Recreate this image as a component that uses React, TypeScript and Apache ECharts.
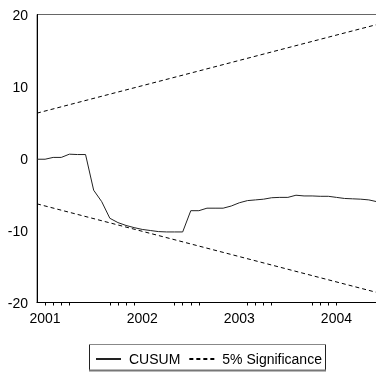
import React, { useEffect, useRef } from "react";
import * as echarts from "echarts";

// Monthly observations, 2000M12 .. 2004M07
const months: string[] = [
  "2000-12",
  "2001-01", "2001-02", "2001-03", "2001-04", "2001-05", "2001-06",
  "2001-07", "2001-08", "2001-09", "2001-10", "2001-11", "2001-12",
  "2002-01", "2002-02", "2002-03", "2002-04", "2002-05", "2002-06",
  "2002-07", "2002-08", "2002-09", "2002-10", "2002-11", "2002-12",
  "2003-01", "2003-02", "2003-03", "2003-04", "2003-05", "2003-06",
  "2003-07", "2003-08", "2003-09", "2003-10", "2003-11", "2003-12",
  "2004-01", "2004-02", "2004-03", "2004-04", "2004-05", "2004-06",
  "2004-07",
];

const cusum: number[] = [
  -0.1, -0.1, 0.15, 0.15, 0.6, 0.55, 0.55, -4.4, -6.0, -8.3, -8.9, -9.3,
  -9.6, -9.85, -10.0, -10.15, -10.2, -10.2, -10.2, -7.25, -7.25, -6.9, -6.9,
  -6.9, -6.6, -6.15, -5.85, -5.75, -5.65, -5.45, -5.4, -5.4, -5.1, -5.2,
  -5.2, -5.25, -5.25, -5.4, -5.55, -5.6, -5.65, -5.75, -6.0, -6.2,
];

// 5% significance bounds: straight lines, read at first and last observation
const upperStart = 6.3;
const upperEnd = 18.9;
const lowerStart = -6.3;
const lowerEnd = -18.9;

const yearLabelIdx: number[] = [1, 13, 25, 37];
const tickIdx: number[] = [
  1, 2, 3, 4, 9, 10, 11, 12, 17, 18, 19, 20, 26, 27, 28, 29, 34, 35, 36, 37,
];

const yTicks = { min: -20, max: 20, interval: 10 };

const FONT = "'Liberation Sans', Arial, sans-serif";

function boundSeries(start: number, end: number): (number | null)[] {
  return months.map((_, i) =>
    i === 0 ? start : i === months.length - 1 ? end : null
  );
}

export default function App() {
  const ref = useRef<HTMLDivElement>(null);

  useEffect(() => {
    document.body.style.margin = "0";
    document.body.style.overflow = "hidden";
    if (!ref.current) return;
    const chart = echarts.init(ref.current, null, { renderer: "svg" });
    const dashed = {
      color: "#000",
      width: 1,
      type: [4, 3] as any,
    };
    chart.setOption({
      animation: false,
      grid: {
        left: 37,
        right: 0,
        top: 14.5,
        bottom: 71.5,
        show: true,
        borderColor: "#666",
        borderWidth: 1,
      },
      xAxis: {
        type: "category",
        data: months,
        boundaryGap: false,
        axisLine: { onZero: false, lineStyle: { color: "#000", width: 1 } },
        axisTick: {
          show: true,
          inside: false,
          length: 3,
          interval: (index: number) => tickIdx.includes(index),
          lineStyle: { color: "#000" },
        },
        axisLabel: {
          interval: (index: number) => yearLabelIdx.includes(index),
          formatter: (v: string) => v.slice(0, 4),
          color: "#000",
          fontSize: 14,
          fontFamily: FONT,
          margin: 8,
        },
        splitLine: { show: false },
      },
      yAxis: {
        type: "value",
        min: yTicks.min,
        max: yTicks.max,
        interval: yTicks.interval,
        axisLine: { show: true, onZero: false, lineStyle: { color: "#000", width: 1 } },
        axisTick: { show: false },
        axisLabel: {
          color: "#000",
          fontSize: 14,
          fontFamily: FONT,
          margin: 9,
        },
        splitLine: { show: false },
      },
      legend: {
        left: 95,
        top: 352,
        padding: 0,
        itemWidth: 25,
        itemHeight: 14,
        itemGap: 8,
        itemStyle: { opacity: 0 },
        textStyle: {
          color: "#000",
          fontSize: 14,
          fontFamily: FONT,
          padding: [0, 0, 0, 3],
        },
        data: ["CUSUM", "5% Significance"],
      },
      graphic: [
        {
          type: "rect",
          shape: { x: 89.5, y: 344.5, width: 236, height: 26 },
          style: { fill: "none", stroke: "#222", lineWidth: 1 },
        },
        {
          type: "line",
          shape: { x1: 89, y1: 344.5, x2: 326, y2: 344.5 },
          style: { stroke: "#888", lineWidth: 1 },
        },
        {
          type: "line",
          shape: { x1: 89, y1: 370.5, x2: 326, y2: 370.5 },
          style: { stroke: "#777", lineWidth: 2 },
        },
      ],
      series: [
        {
          name: "CUSUM",
          type: "line",
          data: cusum,
          symbol: "none",
          lineStyle: { color: "#222", width: 1 },
          itemStyle: { color: "#222" },
        },
        {
          name: "5% Significance",
          type: "line",
          data: boundSeries(upperStart, upperEnd),
          connectNulls: true,
          symbol: "none",
          lineStyle: dashed,
          itemStyle: { color: "#000" },
        },
        {
          name: "5% Significance",
          type: "line",
          data: boundSeries(lowerStart, lowerEnd),
          connectNulls: true,
          symbol: "none",
          lineStyle: dashed,
          itemStyle: { color: "#000" },
        },
      ],
    });
    return () => chart.dispose();
  }, []);

  return (
    <div
      ref={ref}
      style={{ position: "fixed", left: 0, top: 0, width: 385, height: 374 }}
    />
  );
}
